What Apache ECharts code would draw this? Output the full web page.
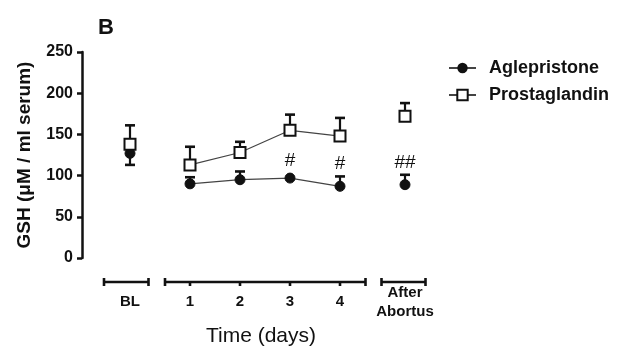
<!DOCTYPE html>
<html>
<head>
<meta charset="utf-8">
<script src="https://cdn.jsdelivr.net/npm/echarts@6/dist/echarts.min.js"></script>
<style>
html, body { margin: 0; background: #fff; }
#chart { width: 619px; height: 346px; }
</style>
</head>
<body>
<div id="chart"></div>
<script>
const categories = ['BL', '1', '2', '3', '4', 'After\nAbortus']
const aglepristone = [127, 90, 95, 97, 87, 89]
const aglepristoneBar = [113, 98, 105, null, 99, 101]
const prostaglandin = [138, 113, 128, 155, 148, 172]
const prostaglandinBar = [161, 135, 141, 174, 170, 188]
const sigMarks = ['', '', '', '#', '#', '##']
const yTicks = [0, 50, 100, 150, 200, 250]
// where each group sits on the hidden x scale, and which ones are joined
const xPos = [-0.2, 1, 2, 3, 4, 5.3]
const joined = [false, true, true, true, true, false]
const brackets = [[-0.72, 0.17], [0.5, 4.51], [4.83, 5.71]]

const FONT = 'Liberation Sans, Arial, sans-serif'
const INK = '#111'

const lineData = (vals) => {
  const out = []
  vals.forEach((v, i) => {
    if (i > 0 && !(joined[i] && joined[i - 1])) out.push([(xPos[i - 1] + xPos[i]) / 2, '-'])
    out.push([xPos[i], v])
  })
  return out
}

const errSeries = (vals, ends, marks) => ({
  type: 'custom',
  z: 1,
  silent: true,
  data: vals.map((v, i) => [xPos[i], v, ends[i] == null ? '-' : ends[i], i]),
  renderItem: (params, api) => {
    const i = api.value(3)
    const p = api.coord([api.value(0), api.value(1)])
    const children = []
    let top = p[1] - 5
    const end = api.value(2)
    if (!isNaN(end)) {
      const q = api.coord([api.value(0), end])
      children.push({ type: 'line', shape: { x1: p[0], y1: p[1], x2: q[0], y2: q[1] }, style: { stroke: INK, lineWidth: 2.2 } })
      children.push({ type: 'line', shape: { x1: q[0] - 5, y1: q[1], x2: q[0] + 5, y2: q[1] }, style: { stroke: INK, lineWidth: 2.6 } })
      top = Math.min(top, q[1])
    }
    if (marks && marks[i]) {
      children.push({
        type: 'text',
        style: { text: marks[i], x: p[0], y: top - 12.5, align: 'center', verticalAlign: 'middle', font: '19px ' + FONT, fill: INK }
      })
    }
    return { type: 'group', children }
  }
})

const chart = echarts.init(document.getElementById('chart'))
chart.setOption({
  animation: false,
  backgroundColor: '#fff',
  title: {
    text: 'B',
    left: 93,
    top: 12,
    textStyle: { fontSize: 22, fontWeight: 'bold', color: INK, fontFamily: FONT }
  },
  legend: {
    orient: 'vertical',
    left: 448,
    top: 59,
    padding: 0,
    itemWidth: 27,
    itemHeight: 13,
    itemGap: 9,
    data: ['Aglepristone', 'Prostaglandin'],
    textStyle: { fontSize: 18, fontWeight: 'bold', color: INK, fontFamily: FONT, padding: [0, 0, 0, 8] }
  },
  grid: { left: 82, right: 179, top: 52, bottom: 88, outerBoundsMode: 'none' },
  xAxis: {
    type: 'value',
    min: -1.16,
    max: 6,
    axisLine: { show: false },
    axisTick: { show: false },
    splitLine: { show: false },
    axisLabel: {
      customValues: xPos,
      formatter: (v) => categories[xPos.indexOf(v)] || '',
      margin: 44,
      verticalAlign: 'middle',
      lineHeight: 19,
      fontSize: 15,
      fontWeight: 'bold',
      color: INK,
      fontFamily: FONT
    },
    name: 'Time (days)',
    nameLocation: 'middle',
    nameGap: 66,
    nameTextStyle: { fontSize: 21, color: INK, fontFamily: FONT }
  },
  yAxis: {
    type: 'value',
    min: yTicks[0],
    max: yTicks[yTicks.length - 1],
    interval: yTicks[1] - yTicks[0],
    splitLine: { show: false },
    axisLine: { show: true, onZero: false, lineStyle: { color: INK, width: 2.5 } },
    axisTick: { show: true, length: 5, lineStyle: { color: INK, width: 2.5 } },
    axisLabel: { margin: 9, fontSize: 16, fontWeight: 'bold', color: INK, fontFamily: FONT },
    name: 'GSH (\u03bcM / ml serum)',
    nameLocation: 'middle',
    nameGap: 48,
    nameTextStyle: { fontSize: 19, fontWeight: 'bold', color: INK, fontFamily: FONT }
  },
  series: [
    errSeries(aglepristone, aglepristoneBar, sigMarks),
    errSeries(prostaglandin, prostaglandinBar, null),
    {
      name: 'Aglepristone',
      type: 'line',
      z: 3,
      data: lineData(aglepristone),
      symbol: 'circle',
      symbolSize: 10,
      itemStyle: { color: INK, borderColor: INK },
      lineStyle: { color: '#444', width: 1.2 }
    },
    {
      name: 'Prostaglandin',
      type: 'line',
      z: 3,
      data: lineData(prostaglandin),
      symbol: 'rect',
      symbolSize: 11,
      itemStyle: { color: '#fff', borderColor: INK, borderWidth: 2 },
      lineStyle: { color: '#444', width: 1.2 }
    },
    {
      type: 'custom',
      silent: true,
      data: brackets,
      renderItem: (params, api) => {
        const lo = api.value(0)
        const hi = api.value(1)
        const a = api.coord([lo, 0])
        const b = api.coord([hi, 0])
        const y = a[1] + 24
        const st = { stroke: INK, lineWidth: 2.6 }
        const children = [
          { type: 'line', shape: { x1: a[0], y1: y, x2: b[0], y2: y }, style: st },
          { type: 'line', shape: { x1: a[0], y1: y - 4, x2: a[0], y2: y + 4 }, style: st },
          { type: 'line', shape: { x1: b[0], y1: y - 4, x2: b[0], y2: y + 4 }, style: st }
        ]
        xPos.forEach(x => {
          if (Number.isInteger(x) && x > lo && x < hi) {
            const t = api.coord([x, 0])
            children.push({ type: 'line', shape: { x1: t[0], y1: y, x2: t[0], y2: y + 4 }, style: st })
          }
        })
        return { type: 'group', children }
      }
    }
  ]
})
</script>
</body>
</html>
